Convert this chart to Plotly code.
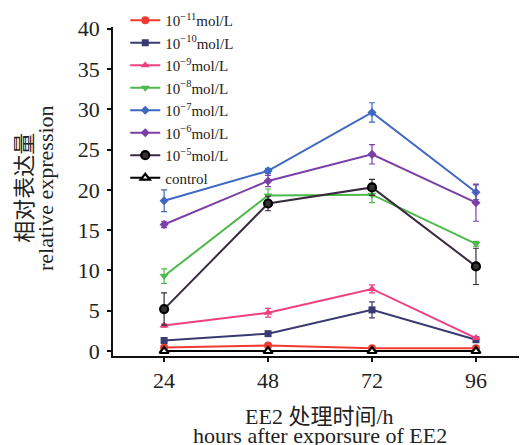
import plotly.graph_objects as go

hours = [24, 48, 72, 96]
tick_labels = ["24", "48", "72", "96"]

names = ["10<sup>−11</sup>mol/L", "10<sup>−10</sup>mol/L", "10<sup>−9</sup>mol/L",
         "10<sup>−8</sup>mol/L", "10<sup>−7</sup>mol/L", "10<sup>−6</sup>mol/L",
         "10<sup>−5</sup>mol/L", "control"]

c_e11 = [0.45, 0.68, 0.33, 0.33]
c_e10 = [1.3, 2.15, 5.1, 1.4]
c_e9 = [3.15, 4.75, 7.7, 1.6]
c_e8 = [9.3, 19.3, 19.4, 13.3]
c_e7 = [18.65, 22.35, 29.6, 19.7]
c_e6 = [15.7, 21.1, 24.4, 18.4]
c_e5 = [5.2, 18.3, 20.3, 10.5]
control = [0.0, 0.0, 0.0, 0.0]

err_e11 = [0.05, 0.1, 0.05, 0.05]
err_e10 = [0.1, 0.2, 1.0, 0.15]
err_e9 = [0.2, 0.55, 0.5, 0.1]
err_e8 = [0.9, 0.8, 1.0, 0.3]
err_e7 = [1.35, 0.3, 1.2, 0.9]
err_e6 = [0.4, 0.7, 1.2, 2.3]
err_e5 = [2.0, 0.9, 1.0, 2.25]
err_ctrl = [0.0, 0.0, 0.0, 0.0]

series = [c_e11, c_e10, c_e9, c_e8, c_e7, c_e6, c_e5, control]
errors = [err_e11, err_e10, err_e9, err_e8, err_e7, err_e6, err_e5, err_ctrl]
colors = ["#f23a30", "#3a3a72", "#ef3f7f", "#4cb94a", "#3e68c2", "#7b3fa8", "#3a2a3e", "#000000"]
marker_colors = ["#f23a30", "#3a3a72", "#ef3f7f", "#4cb94a", "#3e68c2", "#7b3fa8", "#333333", "#ffffff"]
symbols = ["circle", "square", "triangle-up", "triangle-down", "diamond", "diamond", "circle", "triangle-up"]
sizes = [8, 7, 8, 8, 7, 7, 8, 8]
ring_names = ["10<sup>−5</sup>mol/L", "control"]

SERIF = "Liberation Serif, Times New Roman, Noto Sans CJK SC, serif"

fig = go.Figure()
for name, y, e, col, mcol, sym, sz in zip(names, series, errors, colors, marker_colors, symbols, sizes):
    is_ring = name in ring_names
    fig.add_trace(go.Scatter(
        x=hours, y=y, name=name, mode="lines+markers",
        line=dict(color=col, width=2),
        marker=dict(symbol=sym, size=sz, color=mcol,
                    line=dict(color="#000000" if is_ring else col, width=2.2 if is_ring else 0)),
        error_y=dict(type="data", array=e, visible=True, color=col, thickness=1.2, width=3),
    ))

# The page body keeps the browser's default 8px margin, so the figure is 8px smaller.
fig.update_layout(
    width=519, height=437,
    margin=dict(l=105, r=6, t=19, b=89, autoexpand=False),
    paper_bgcolor="white", plot_bgcolor="white",
    font=dict(family=SERIF, color="#222222"),
    showlegend=True,
    legend=dict(x=0.03, y=1.07, xanchor="left", yanchor="top",
                font=dict(size=15, family=SERIF, color="#222222"),
                bgcolor="rgba(0,0,0,0)", tracegroupgap=0, itemwidth=30),
    xaxis=dict(range=[12.2, 106.4], tickvals=hours, ticktext=tick_labels,
               showline=True, linecolor="#111111", linewidth=1.5,
               ticks="outside", ticklen=4, tickcolor="#111111", tickwidth=1.5,
               showgrid=False, zeroline=False, automargin=False,
               tickfont=dict(size=22, family=SERIF, color="#222222"),
               ticklabelstandoff=0),
    yaxis=dict(range=[-0.62, 40.2], tickvals=[0, 5, 10, 15, 20, 25, 30, 35, 40],
               showline=True, linecolor="#111111", linewidth=1.5,
               ticks="outside", ticklen=4, tickcolor="#111111", tickwidth=1.5,
               showgrid=False, zeroline=False, automargin=False,
               tickfont=dict(size=22, family=SERIF, color="#222222"),
               ticklabelstandoff=3),
    annotations=[
        dict(text="EE2 处理时间/h", x=0.507, y=-0.185, xref="paper", yref="paper",
             xanchor="center", yanchor="middle", showarrow=False,
             font=dict(size=22, family=SERIF, color="#222222")),
        dict(text="hours after exporsure of EE2", x=0.507, y=-0.242, xref="paper", yref="paper",
             xanchor="center", yanchor="middle", showarrow=False,
             font=dict(size=22, family=SERIF, color="#222222")),
        dict(text="相对表达量", x=-0.216, y=0.511, xref="paper", yref="paper",
             xanchor="center", yanchor="middle", showarrow=False, textangle=-90,
             font=dict(size=22, family=SERIF, color="#222222")),
        dict(text="relative expression", x=-0.164, y=0.511, xref="paper", yref="paper",
             xanchor="center", yanchor="middle", showarrow=False, textangle=-90,
             font=dict(size=22, family=SERIF, color="#222222")),
    ],
)

fig.write_html("out.html")
